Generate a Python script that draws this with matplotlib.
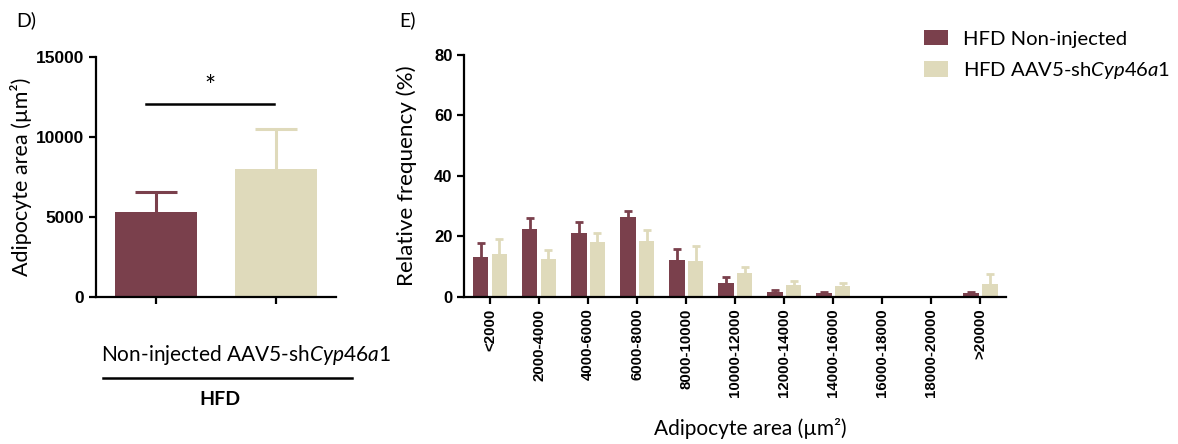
import matplotlib
matplotlib.use("Agg")
import matplotlib.pyplot as plt
from matplotlib.patches import Patch
from matplotlib.lines import Line2D
import numpy as np

plt.rcParams['font.family'] = ['Lato', 'DejaVu Sans']
plt.rcParams['mathtext.fontset'] = 'custom'
plt.rcParams['mathtext.rm'] = 'Lato'
plt.rcParams['mathtext.it'] = 'Lato:italic'

# ---- data ----
groups_d = ["Non-injected", "AAV5-shCyp46a1"]
mean_d = [5310, 7960]
err_d = [1230, 2500]

bins_e = ["<2000", "2000-4000", "4000-6000", "6000-8000", "8000-10000",
          "10000-12000", "12000-14000", "14000-16000", "16000-18000",
          "18000-20000", ">20000"]
noninj_mean = [13.2, 22.4, 21.1, 26.3, 12.3, 4.6, 1.4, 1.2, 0.0, 0.0, 1.2]
noninj_err = [4.7, 3.6, 3.5, 2.0, 3.5, 1.9, 0.8, 0.4, 0.0, 0.0, 0.5]
sh_mean = [14.1, 12.4, 18.2, 18.3, 11.9, 7.7, 3.8, 3.5, 0.0, 0.0, 4.1]
sh_err = [5.0, 3.0, 2.8, 3.7, 4.8, 2.2, 1.5, 1.1, 0.0, 0.0, 3.4]

maroon = "#7A404C"
beige = "#DFDABB"

fig = plt.figure(figsize=(11.78, 4.44), dpi=100)

lw_axis = 1.6

def style_axis(ax):
    for s in ("top", "right"):
        ax.spines[s].set_visible(False)
    for s in ("left", "bottom"):
        ax.spines[s].set_linewidth(lw_axis)
    ax.tick_params(width=lw_axis, length=5, direction="out")

def upper_err(ax, x, y, e, color, lw, cap):
    res = ax.errorbar(x, y, yerr=[np.zeros(len(np.atleast_1d(x))), np.atleast_1d(e)],
                      fmt="none", ecolor=color, elinewidth=lw, capsize=cap,
                      capthick=lw, zorder=1)
    # hide the lower cap (sits at bar top)
    res[1][0].set_visible(False)
    return res

# ---- Panel D ----
axd = fig.add_axes([96/1178, 1-296.7/444, 240/1178, 240/444])
xd = np.arange(len(groups_d))
colors_d = [maroon, beige]
axd.bar(xd, mean_d, width=0.69, color=colors_d, zorder=2)
for i in range(len(xd)):
    upper_err(axd, [xd[i]], [mean_d[i]], [err_d[i]], colors_d[i], 2.2, 15)
axd.set_xlim(-0.5, 1.5)
axd.set_ylim(0, 15000)
axd.set_yticks([0, 5000, 10000, 15000])
axd.set_xticks(xd)
axd.set_xticklabels(["", ""])
style_axis(axd)
for lab in axd.get_yticklabels():
    lab.set_fontfamily("Liberation Sans")
    lab.set_fontweight("bold")
    lab.set_fontsize(12.5)
axd.set_ylabel("Adipocyte area (µm²)", fontsize=15.5, labelpad=3)
axd.plot([-0.083, 0.986], [12040, 12040], color="black", lw=1.8, clip_on=False)
axd.text(0.45, 12300, "*", ha="center", va="bottom", fontsize=19)

fig.text(246/1178, 1-355/444, "Non-injected AAV5-sh$\\it{Cyp46a1}$", ha="center",
         va="center", fontsize=15)
fig.add_artist(Line2D([103/1178, 352/1178], [1-378/444, 1-378/444], color="black", lw=1.8))
fig.text(220/1178, 1-399/444, "HFD", ha="center", va="center", fontsize=14,
         fontweight="bold")
fig.text(16/1178, 1-20/444, "D)", ha="left", va="center", fontsize=14)

# ---- Panel E ----
axe = fig.add_axes([464.3/1178, 1-296.7/444, (1006-464.3)/1178, (296.7-55)/444])
xe = np.arange(len(bins_e))
off = 0.19
w = 0.315
axe.bar(xe - off, noninj_mean, width=w, color=maroon, zorder=2)
axe.bar(xe + off, sh_mean, width=w, color=beige, zorder=2)
upper_err(axe, xe - off, noninj_mean, noninj_err, maroon, 2, 3)
upper_err(axe, xe + off, sh_mean, sh_err, beige, 2, 3)
axe.set_xlim(-0.525, 10.52)
axe.set_ylim(0, 80)
axe.set_yticks([0, 20, 40, 60, 80])
axe.set_xticks(xe)
axe.set_xticklabels(bins_e, rotation=90, fontfamily="Liberation Sans",
                    fontweight="bold", fontsize=10.8)
style_axis(axe)
for lab in axe.get_yticklabels():
    lab.set_fontfamily("Liberation Sans")
    lab.set_fontweight("bold")
    lab.set_fontsize(12)
axe.set_ylabel("Relative frequency (%)", fontsize=16.2, labelpad=12)
axe.set_xlabel("Adipocyte area (µm²)", fontsize=15)
axe.xaxis.set_label_coords((750-464.3)/(1006-464.3), -0.50)
fig.text(399/1178, 1-20/444, "E)", ha="left", va="center", fontsize=14)

handles = [Patch(facecolor=maroon, label="HFD Non-injected"),
           Patch(facecolor=beige, label="HFD AAV5-sh$\\it{Cyp46a1}$")]
fig.legend(handles=handles, loc="upper left", bbox_to_anchor=(906/1178, 1-12/444),
           frameon=False, fontsize=14.6, handlelength=1.18, handleheight=0.78,
           handletextpad=0.75, labelspacing=0.6)

fig.savefig("out.png", dpi=100)
